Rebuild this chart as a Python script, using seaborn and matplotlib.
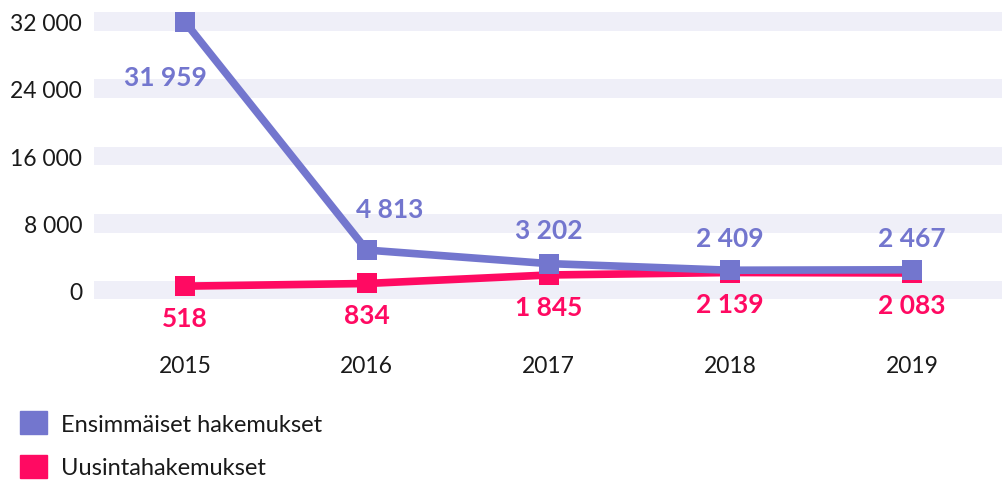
import pandas as pd
import numpy as np
import matplotlib.pyplot as plt
import seaborn as sns
from matplotlib.patches import Patch

years = ["2015", "2016", "2017", "2018", "2019"]
ensimmaiset = [31959, 4813, 3202, 2409, 2467]
uusinta = [518, 834, 1845, 2139, 2083]
series_names = ["Ensimmäiset hakemukset", "Uusintahakemukset"]
y_ticks = [0, 8000, 16000, 24000, 32000]

blue = "#7376CE"
red = "#FF0A62"
band = "#EFEFF8"

sns.set_style("white")
plt.rcParams["font.family"] = ["Lato", "DejaVu Sans"]

df_blue = pd.DataFrame({"year": years, "value": ensimmaiset})
df_red = pd.DataFrame({"year": years, "value": uusinta})

fig = plt.figure(figsize=(10.03, 4.89), dpi=100)
ax = fig.add_axes([94 / 1003, 1 - 300 / 489, 1 - 94 / 1003, 290 / 489])

# light bands instead of grid lines
for t in y_ticks:
    ax.axhspan(t - 1130, t + 1130, color=band, zorder=0, lw=0)

sns.lineplot(data=df_red, x="year", y="value", color=red, lw=5.5, marker="s",
             markersize=15, markeredgewidth=0, legend=False, ax=ax, zorder=3)
sns.lineplot(data=df_blue, x="year", y="value", color=blue, lw=5.5, marker="s",
             markersize=15, markeredgewidth=0, legend=False, ax=ax, zorder=4)

def fmt(v):
    return f"{v:,}".replace(",", " ")

blue_off = [(-14, -40), (16.5, 29.5), (0, 24.5), (0, 23), (0, 23)]
for i, v in enumerate(ensimmaiset):
    ax.annotate(fmt(v), (i, v), xytext=blue_off[i], textcoords="offset points",
                ha="center", va="center", color=blue, fontsize=19,
                fontweight="bold", zorder=5)
for i, v in enumerate(uusinta):
    ax.annotate(fmt(v), (i, v), xytext=(0, -23), textcoords="offset points",
                ha="center", va="center", color=red, fontsize=19,
                fontweight="bold", zorder=5)

ax.set_xlim(-0.5, 4.5)
ax.set_ylim(-1011, 33487)
ax.set_yticks(y_ticks)
ax.set_yticklabels([fmt(t) for t in y_ticks])
ax.tick_params(axis="y", length=0, pad=8.5, labelsize=16.5, labelcolor="#1a1a1a")
ax.tick_params(axis="x", length=0, pad=40, labelsize=16.5, labelcolor="#1a1a1a")
ax.set_xlabel("")
ax.set_ylabel("")
sns.despine(ax=ax, left=True, bottom=True)

handles = [Patch(color=blue), Patch(color=red)]
fig.legend(handles, series_names, loc="upper left", bbox_to_anchor=(20 / 1003, 1 - 412 / 489),
           frameon=False, fontsize=17, handlelength=1.15, handleheight=1.15,
           handletextpad=0.6, labelspacing=0.85, labelcolor="#1a1a1a", borderaxespad=0,
           borderpad=0)

plt.savefig("out.png", dpi=100)
